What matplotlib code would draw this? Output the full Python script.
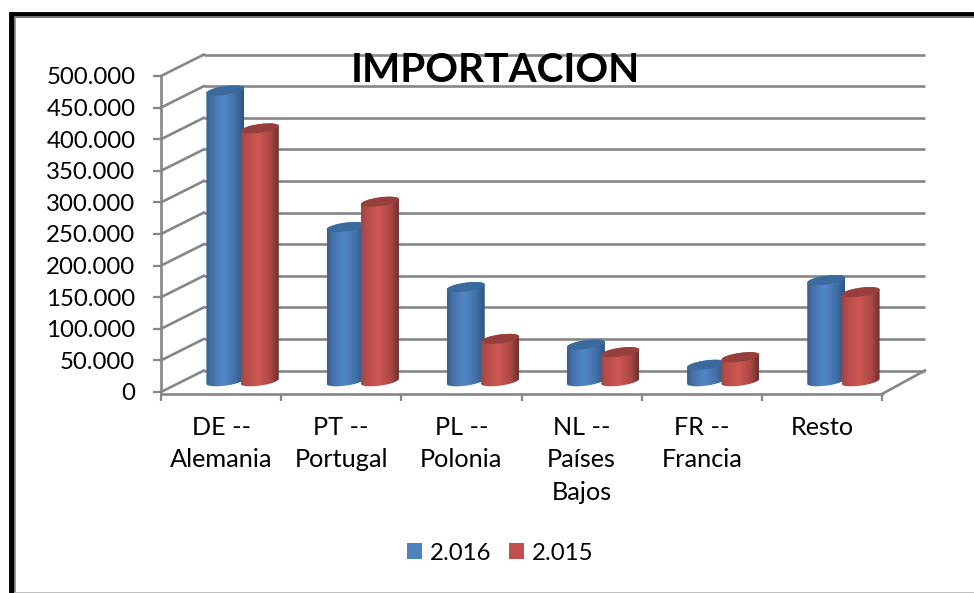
import numpy as np
import matplotlib
matplotlib.use("Agg")
import matplotlib.pyplot as plt
from matplotlib.colors import LinearSegmentedColormap
from matplotlib.patches import Patch, PathPatch, Rectangle
from matplotlib.path import Path

categories = ["DE --\nAlemania", "PT --\nPortugal", "PL --\nPolonia",
              "NL --\nPaíses\nBajos", "FR --\nFrancia", "Resto"]
values_2016 = [460000, 244000, 149000, 58000, 26000, 160000]
values_2015 = [400000, 284000, 67000, 46000, 38000, 141000]
series_labels = ["2.016", "2.015"]
y_ticks = [0, 50000, 100000, 150000, 200000, 250000, 300000, 350000, 400000, 450000, 500000]
y_tick_labels = ["0", "50.000", "100.000", "150.000", "200.000", "250.000",
                 "300.000", "350.000", "400.000", "450.000", "500.000"]
title = "IMPORTACION"

W, H = 974, 593
plt.rcParams["font.family"] = ["Lato", "DejaVu Sans"]
fig = plt.figure(figsize=(W / 100, H / 100), dpi=100, facecolor="white")

L, R, T, B = 161, 882, 76, 392
ax = fig.add_axes([L / W, 1 - B / H, (R - L) / W, (B - T) / H])
ax.set_xlim(-0.5, 5.5)
ax.set_ylim(0, 500000)
ax.set_autoscale_on(False)
ax.patch.set_alpha(0)
PX_X = (R - L) / 6
PX_Y = 500000 / (B - T)
GRID = "#868686"
LW = 1.9
DX, DY = 43 / PX_X, 21.5 * PX_Y

# frame of the picture
fig.add_artist(Rectangle((11.5 / W, -0.1), (W + 50) / W, 1 - 14.5 / H + 0.1,
                         transform=fig.transFigure, fill=False, ec="black", lw=4.2))
fig.add_artist(Rectangle((15 / W, -0.1), (W + 50) / W, 1 - 17 / H + 0.1,
                         transform=fig.transFigure, fill=False, ec="#8c8c8c", lw=1.2))
fig.add_artist(plt.Line2D([15 / W, 1], [0.5 / H, 0.5 / H], color="#b5b5b5", lw=1.2,
                          transform=fig.transFigure))

# back wall and side wall
x0, x1 = -0.5, 5.5
for v in y_ticks:
    ax.plot([x0 + DX, x1 + DX], [v + DY, v + DY], color=GRID, lw=LW, zorder=1, clip_on=False,
            solid_capstyle="butt")
    ax.plot([x0, x0 + DX], [v, v + DY], color=GRID, lw=LW, zorder=1, clip_on=False)
ax.plot([x1, x1 + DX], [-2 * PX_Y, DY], color=GRID, lw=LW, zorder=1, clip_on=False)

blue = LinearSegmentedColormap.from_list("b", [(0, "#38618f"), (0.18, "#4675ab"), (0.45, "#5288c9"),
                                               (0.78, "#416fa6"), (1, "#2c5580")])
red = LinearSegmentedColormap.from_list("r", [(0, "#a04543"), (0.18, "#bb4e4b"), (0.45, "#ce5753"),
                                              (0.78, "#ab4845"), (1, "#6c2f2d")])
grad = np.linspace(0, 1, 128).reshape(1, -1)
A_PX, B_PX, K_PX = 19, 4.4, 2.5


def cylinder(center, value, cmap, top_color, z):
    a = A_PX / PX_X
    cx = center + DX / 2
    base, top = DY / 2, value + DY / 2
    tb = np.linspace(np.pi, 2 * np.pi, 40)
    tt = np.linspace(0, np.pi, 40)
    xs = np.r_[cx + a * np.cos(tb), cx + a * np.cos(tt)]
    ys = np.r_[base + (B_PX * np.sin(tb) + K_PX * np.cos(tb)) * PX_Y,
               top + (B_PX * np.sin(tt) + K_PX * np.cos(tt)) * PX_Y]
    body = Path(np.c_[xs, ys])
    im = ax.imshow(grad, cmap=cmap, extent=(cx - a, cx + a, base - 8 * PX_Y, top + 8 * PX_Y),
                   aspect="auto", zorder=z, interpolation="bilinear")
    im.set_clip_path(PathPatch(body, transform=ax.transData))
    t = np.linspace(0, 2 * np.pi, 80)
    ax.fill(cx + a * np.cos(t), top + (B_PX * np.sin(t) + K_PX * np.cos(t)) * PX_Y,
            color=top_color, lw=0, zorder=z + 0.1)


bar_offset = 0.143
for i, (v16, v15) in enumerate(zip(values_2016, values_2015)):
    cylinder(i - bar_offset, v16, blue, "#3b6a9f", 3)
    cylinder(i + bar_offset, v15, red, "#963f3c", 4)

# axes
for s in ("top", "right"):
    ax.spines[s].set_visible(False)
for s in ("left", "bottom"):
    ax.spines[s].set_color(GRID)
    ax.spines[s].set_linewidth(LW)
ax.spines["bottom"].set_position(("outward", 1.2))
ax.set_yticks(y_ticks, y_tick_labels)
ax.set_xticks(np.arange(-0.5, 6, 1), [""] * 7)
ax.set_xticks(np.arange(6), categories, minor=True, linespacing=1.5, va="top")
ax.tick_params(axis="y", length=5.5, width=1.6, color=GRID, labelsize=17.3, pad=13, labelcolor="black")
ax.tick_params(axis="x", which="major", length=5, width=1.6, color=GRID)
ax.tick_params(axis="x", which="minor", length=0, labelsize=18.2, pad=16, labelcolor="black")

fig.text(495 / W, 1 - 71 / H, title, ha="center", va="center", fontsize=29.2, fontweight="bold", color="black")

handles = [Patch(facecolor="#4f81bd", label=series_labels[0]),
           Patch(facecolor="#c0504d", label=series_labels[1])]
fig.legend(handles=handles, loc="center", bbox_to_anchor=(500 / W, 1 - 553 / H), ncol=2,
           frameon=False, fontsize=17.3, handlelength=0.62, handleheight=0.62,
           handletextpad=0.32, columnspacing=0.75, borderpad=0)

fig.savefig("out.png", dpi=100)
